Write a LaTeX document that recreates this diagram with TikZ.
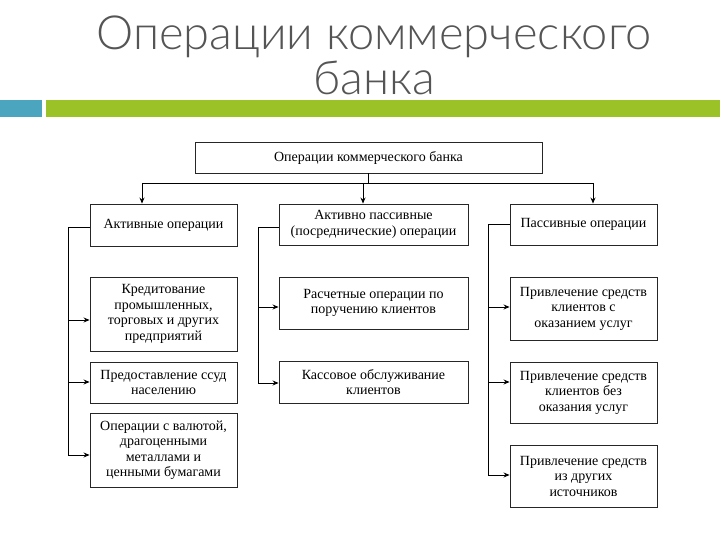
\documentclass[tikz,border=0pt]{standalone}
\usepackage{fontspec}
\setmainfont{Liberation Serif}
\newfontfamily\titlefont{Lato Light}
\usetikzlibrary{arrows.meta}
\definecolor{teal1}{RGB}{75,165,190}
\definecolor{green1}{RGB}{155,195,40}
\definecolor{titlegray}{RGB}{85,85,85}
\begin{document}
\begin{tikzpicture}[x=1pt,y=-1pt,
  box/.style={draw=black!85, line width=0.9pt, fill=white, align=center, inner sep=1pt,
    font=\fontsize{14}{15.5}\selectfont},
  arr/.style={-{Stealth[length=6pt,width=5pt]}, line width=0.8pt},
  ln/.style={line width=0.8pt},
  ttl/.style={font=\titlefont\fontsize{47}{50}\selectfont, text=titlegray, inner sep=0pt, anchor=base}]
\useasboundingbox (0,0) rectangle (720,540);
% title
\node[ttl] (t1) at (374,50) {Операции коммерческого};
\node[ttl] (t2) at (374,95) {банка};
\fill[teal1] (0,100) rectangle (42,117);
\fill[green1] (46,100) rectangle (720,117);
% boxes
\node[box, minimum width=347pt, minimum height=31pt] (top) at (368.5,157.5) {Операции коммерческого банка};
\node[box, minimum width=147pt, minimum height=42pt] (act) at (163.5,225) {Активные операции};
\node[box, minimum width=189pt, minimum height=41pt] (mid) at (373.5,224.5) {Активно пассивные\\(посреднические) операции};
\node[box, minimum width=147pt, minimum height=41pt] (pas) at (583.5,224.5) {Пассивные операции};
\node[box, minimum width=147pt, minimum height=74pt] (a1) at (163.5,314) {Кредитование\\промышленных,\\торговых и других\\предприятий};
\node[box, minimum width=147pt, minimum height=41pt] (a2) at (163.5,382.5) {Предоставление ссуд\\населению};
\node[box, minimum width=147pt, minimum height=74pt] (a3) at (163.5,450) {Операции с валютой,\\драгоценными\\металлами и\\ценными бумагами};
\node[box, minimum width=189pt, minimum height=52pt] (m1) at (373.5,303) {Расчетные операции по\\поручению клиентов};
\node[box, minimum width=189pt, minimum height=42pt] (m2) at (373.5,382) {Кассовое обслуживание\\клиентов};
\node[box, minimum width=147pt, minimum height=63pt] (p1) at (583.5,308.5) {Привлечение средств\\клиентов с\\оказанием услуг};
\node[box, minimum width=147pt, minimum height=61pt] (p2) at (583.5,392.5) {Привлечение средств\\клиентов без\\оказания услуг};
\node[box, minimum width=147pt, minimum height=62pt] (p3) at (583.5,476) {Привлечение средств\\из других\\источников};
% top connectors
\coordinate (hl) at (142,183);
\coordinate (hr) at (593,183);
\draw[ln] (top.south) -- (top.south |- hl);
\draw[ln] (hl) -- (hr);
\draw[arr] (hl) -- (act.north -| hl);
\draw[arr] (363,183) -- (mid.north -| 363,0);
\draw[arr] (hr) -- (pas.north -| hr);
% left bracket
\coordinate (la) at (68,227);
\coordinate (lb) at (68,455);
\draw[ln] (act.west |- la) -- (la) -- (lb);
\draw[arr] (la |- 0,320) -- (a1.west |- 0,320);
\draw[arr] (la |- 0,382) -- (a2.west |- 0,382);
\draw[arr] (lb) -- (a3.west |- lb);
% middle bracket
\coordinate (ma) at (258,227);
\coordinate (mb) at (258,383);
\draw[ln] (mid.west |- ma) -- (ma) -- (mb);
\draw[arr] (ma |- 0,307) -- (m1.west |- 0,307);
\draw[arr] (mb) -- (m2.west |- mb);
% right bracket
\coordinate (pa) at (488,224);
\coordinate (pb) at (488,475);
\draw[ln] (pas.west |- pa) -- (pa) -- (pb);
\draw[arr] (pa |- 0,307) -- (p1.west |- 0,307);
\draw[arr] (pa |- 0,382) -- (p2.west |- 0,382);
\draw[arr] (pb) -- (p3.west |- pb);
\end{tikzpicture}
\end{document}
